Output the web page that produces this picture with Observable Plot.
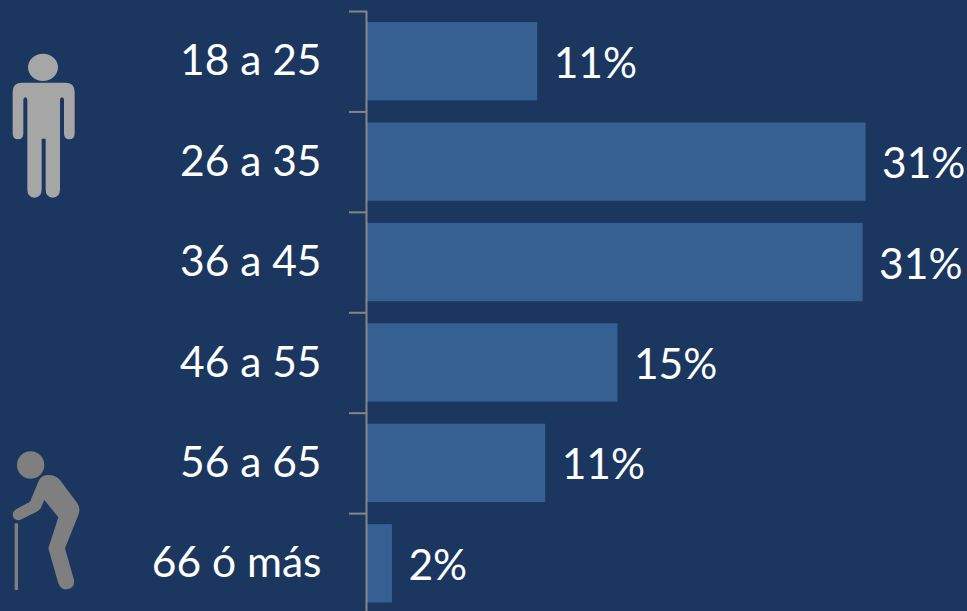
<!DOCTYPE html>
<html lang="es">
<head>
<meta charset="utf-8">
<script src="https://cdn.jsdelivr.net/npm/d3@7"></script>
<script src="https://cdn.jsdelivr.net/npm/@observablehq/plot@0.6"></script>
<style>
html,body{margin:0;padding:0;background:#1b365f;overflow:hidden;width:967px;height:611px}
#wrap{position:relative;width:967px;height:611px}
#wrap svg{position:absolute;left:0;top:0;display:block}
</style>
</head>
<body>
<div id="wrap"></div>
<script>
const ages = ["18 a 25","26 a 35","36 a 45","46 a 55","56 a 65","66 ó más"];
const shares = [10.6,31.05,30.87,15.6,11.1,1.55];
const shareLabels = ["11%","31%","31%","15%","11%","2%"];
const rows = ages.map((age,i)=>({age,share:shares[i],label:shareLabels[i]}));

const chart = Plot.plot({
  width:967,height:611,
  marginTop:11,marginBottom:0,marginLeft:0,marginRight:0,
  style:{background:"transparent",fontFamily:"Lato, Carlito, sans-serif"},
  x:{domain:[0,31.05],range:[367,865.5],axis:null},
  y:{domain:ages,range:[11,613.5],paddingInner:0.22,paddingOuter:0.11,align:0.5,round:false,axis:null},
  marks:[
    Plot.barX(rows,{x:"share",y:"age",fill:"#366092"}),
    Plot.ruleX([0],{stroke:"#868686",strokeWidth:2,dx:-1}),
    Plot.ruleY(ages,{y:d=>d,x1:-1.12,x2:0,dy:-50.2,stroke:"#868686",strokeWidth:2}),
    Plot.text(rows,{x:0,y:"age",text:"age",textAnchor:"end",dx:-46,dy:0,fill:"white",fontSize:42.5}),
    Plot.text(rows,{x:"share",y:"age",text:"label",textAnchor:"start",dx:16,dy:2.5,fill:"white",fontSize:42.5})
  ]
});
document.getElementById("wrap").appendChild(chart);

const icons = document.createElement("div");
icons.innerHTML = `
<svg width="100" height="180" viewBox="0 0 300 540" style="left:0;top:30px" aria-hidden="true">
  <ellipse cx="129" cy="112" rx="45" ry="41" fill="#a6a6a6"/>
  <path fill="#a6a6a6" d="M66 158H196Q224 158 224 186V310Q224 328 208 328Q192 328 192 310V210Q192 202 186 202Q180 202 180 210V478Q180 503 158 503Q137 503 137 478V326H125V478Q125 503 103 503Q82 503 82 478V210Q82 202 76 202Q70 202 70 210V310Q70 328 54 328Q38 328 38 310V186Q38 158 66 158Z"/>
</svg>
<svg width="100" height="160" viewBox="0 0 300 480" style="left:0;top:440px" aria-hidden="true">
  <circle cx="92" cy="75" r="41" fill="#7f7f7f"/>
  <rect x="44" y="250" width="10" height="200" fill="#7f7f7f"/>
  <path fill="#7f7f7f" d="M140 105Q165 103 180 120L232 190Q243 205 235 225L195 325L222 420Q225 445 200 448Q183 450 175 430L145 325L175 232L133 180L122 205Q118 212 110 215L60 240Q40 243 38 225Q38 215 48 208L90 185L115 125Q122 107 140 105Z"/>
</svg>`;
document.getElementById("wrap").appendChild(icons);
</script>
</body>
</html>
